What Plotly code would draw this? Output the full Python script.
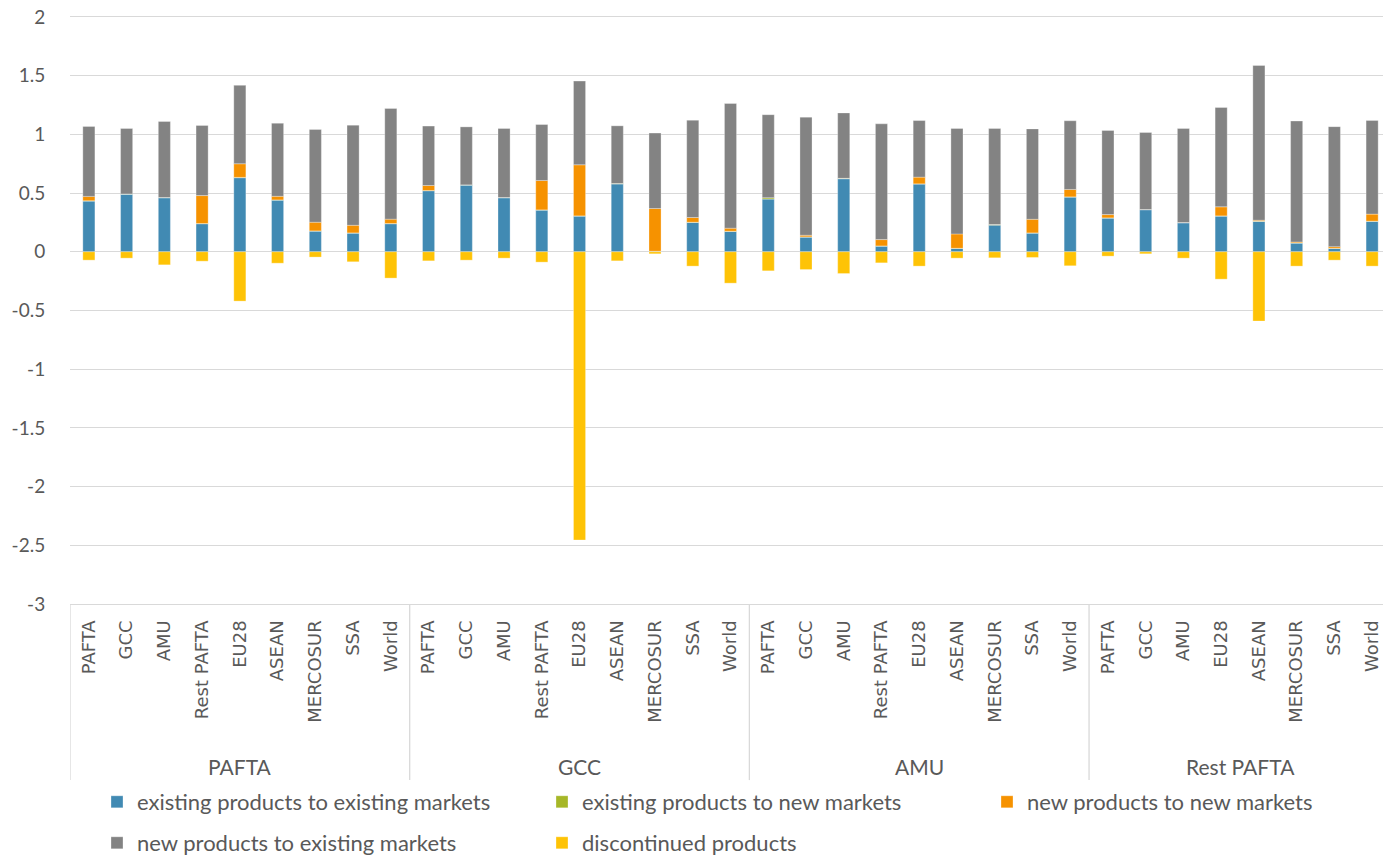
import plotly.graph_objects as go

groups = ["PAFTA", "GCC", "AMU", "Rest PAFTA"]
partners = [
    ["PAFTA", "GCC", "AMU", "Rest PAFTA", "EU28", "ASEAN", "MERCOSUR", "SSA", "World"],
    ["PAFTA", "GCC", "AMU", "Rest PAFTA", "EU28", "ASEAN", "MERCOSUR", "SSA", "World"],
    ["PAFTA", "GCC", "AMU", "Rest PAFTA", "EU28", "ASEAN", "MERCOSUR", "SSA", "World"],
    ["PAFTA", "GCC", "AMU", "EU28", "ASEAN", "MERCOSUR", "SSA", "World"],
]

existing_existing = [
    0.432, 0.491, 0.460, 0.239, 0.631, 0.440, 0.176, 0.159, 0.239,
    0.520, 0.568, 0.460, 0.355, 0.304, 0.577, 0.005, 0.250, 0.173,
    0.449, 0.125, 0.622, 0.048, 0.577, 0.028, 0.227, 0.159, 0.466,
    0.287, 0.358, 0.247, 0.304, 0.259, 0.074, 0.028, 0.259,
]
existing_new = [
    0.003, 0.002, 0.002, 0.002, 0.003, 0.002, 0.002, 0.002, 0.002,
    0.002, 0.002, 0.002, 0.002, 0.002, 0.005, 0.000, 0.002, 0.002,
    0.012, 0.002, 0.004, 0.002, 0.002, 0.002, 0.005, 0.002, 0.002,
    0.002, 0.002, 0.002, 0.002, 0.002, 0.002, 0.002, 0.002,
]
new_new = [
    0.037, 0.000, 0.000, 0.238, 0.116, 0.031, 0.074, 0.065, 0.037,
    0.043, 0.000, 0.000, 0.250, 0.435, 0.000, 0.364, 0.040, 0.026,
    0.000, 0.014, 0.000, 0.054, 0.057, 0.122, 0.000, 0.116, 0.063,
    0.028, 0.000, 0.000, 0.077, 0.008, 0.008, 0.014, 0.060,
]
new_existing = [
    0.596, 0.557, 0.648, 0.597, 0.668, 0.622, 0.790, 0.853, 0.943,
    0.506, 0.494, 0.588, 0.477, 0.713, 0.491, 0.642, 0.829, 1.062,
    0.707, 1.006, 0.557, 0.986, 0.482, 0.898, 0.818, 0.770, 0.585,
    0.716, 0.656, 0.801, 0.846, 1.318, 1.030, 1.022, 0.798,
]
discontinued = [
    -0.071, -0.054, -0.111, -0.080, -0.420, -0.097, -0.045, -0.085, -0.224,
    -0.077, -0.071, -0.054, -0.088, -2.455, -0.077, -0.017, -0.122, -0.267,
    -0.162, -0.151, -0.185, -0.094, -0.122, -0.054, -0.051, -0.048, -0.119,
    -0.037, -0.017, -0.054, -0.233, -0.590, -0.122, -0.071, -0.122,
]

ytick_vals = [2, 1.5, 1, 0.5, 0, -0.5, -1, -1.5, -2, -2.5, -3]
ytick_text = ["2", "1.5", "1", "0.5", "0", "-0.5", "-1", "-1.5", "-2", "-2.5", "-3"]

series = [
    ("existing products to existing markets", existing_existing, "#418AB3"),
    ("existing products to new markets", existing_new, "#A6B727"),
    ("new products to new markets", new_new, "#F69200"),
    ("new products to existing markets", new_existing, "#838383"),
    ("discontinued products", discontinued, "#FEC306"),
]

labels = [p for g in partners for p in g]
xpos = list(range(len(labels)))

# the page body adds an 8px margin; figure is sized to fill the rest of the window
W, H = 1383, 848

legend_ids = ["legend", "legend2", "legend3", "legend4", "legend5"]
# legend entry anchors (figure pixels): three columns, two rows
legend_xy = [(89, 794), (534, 794), (979, 794), (89, 835), (534, 835)]

fig = go.Figure()
for (name, vals, col), lid in zip(series, legend_ids):
    fig.add_trace(go.Bar(
        x=xpos, y=vals, name=name, legend=lid,
        marker=dict(color=col, line=dict(color="rgba(255,255,255,0.5)", width=0.6)),
    ))

grid = "#D9D9D9"
txt = "#595959"
lfont = "Lato, Open Sans, sans-serif"

bounds = [-0.5]
for g in partners:
    bounds.append(bounds[-1] + len(g))
shapes = []
for b in bounds:
    shapes.append(dict(type="line", xref="x", yref="paper", x0=b, x1=b,
                       y0=0, y1=-0.30, line=dict(color=grid, width=1.3)))
annotations = []
for i, g in enumerate(groups):
    mid = (bounds[i] + bounds[i + 1]) / 2
    annotations.append(dict(x=mid, y=-0.276, xref="x", yref="paper", text=g,
                            showarrow=False, yanchor="middle",
                            font=dict(family=lfont, size=21, color=txt)))

legends = {}
for lid, (lx, ly) in zip(legend_ids, legend_xy):
    legends[lid] = dict(orientation="h", xref="container", yref="container",
                        x=lx / W, y=1 - ly / H, xanchor="left", yanchor="middle",
                        itemwidth=30, bgcolor="rgba(0,0,0,0)",
                        font=dict(family=lfont, size=22, color=txt))

fig.update_layout(
    width=W, height=H,
    margin=dict(l=62, r=0, t=9, b=252),
    plot_bgcolor="white", paper_bgcolor="white",
    barmode="relative", bargap=0.68,
    shapes=shapes, annotations=annotations,
    showlegend=True,
    **legends,
    xaxis=dict(range=[-0.5, len(labels) - 0.5], tickmode="array", tickvals=xpos,
               ticktext=labels, tickangle=-90, showgrid=False, zeroline=False,
               showline=True, mirror=True, linecolor=grid, linewidth=1.3,
               ticks="outside", ticklen=8,
               tickcolor="rgba(0,0,0,0)", automargin=False,
               tickfont=dict(family='"DejaVu Sans", Verdana, sans-serif', size=18, color=txt)),
    yaxis=dict(range=[-3, 2], tickmode="array", tickvals=ytick_vals, ticktext=ytick_text,
               showgrid=True, gridcolor=grid, gridwidth=1.3, zeroline=True,
               zerolinecolor=grid, zerolinewidth=1.3, showline=False,
               ticks="outside", ticklen=20, ticklabeloverflow="allow",
               tickcolor="rgba(0,0,0,0)", automargin=False,
               tickfont=dict(family=lfont, size=19, color=txt)),
)

fig.write_html("out.html")
